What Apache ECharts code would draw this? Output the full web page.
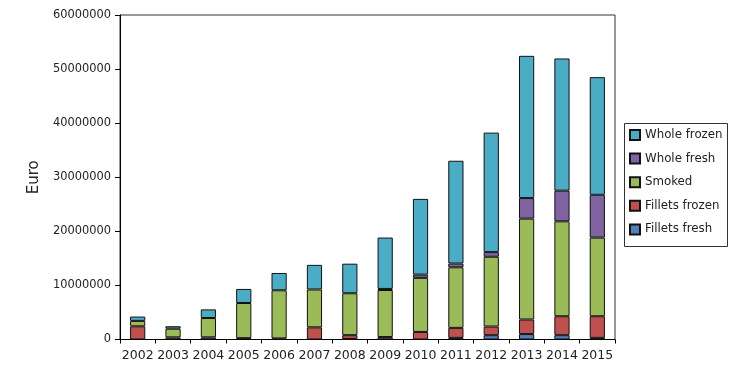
<!DOCTYPE html>
<html>
<head>
<meta charset="utf-8">
<script src="https://cdn.jsdelivr.net/npm/echarts@6/dist/echarts.min.js"></script>
<style>html,body{margin:0;padding:0;background:#fff}#c{width:737px;height:372px}</style>
</head>
<body>
<div id="c"></div>
<script>
var years = ['2002','2003','2004','2005','2006','2007','2008','2009','2010','2011','2012','2013','2014','2015'];
var filletsFresh  = [0, 0, 0, 0, 0, 0, 100000, 0, 0, 300000, 800000, 1000000, 800000, 300000];
var filletsFrozen = [2440000, 400000, 400000, 250000, 200000, 2250000, 700000, 450000, 1400000, 1850000, 1600000, 2700000, 3500000, 4000000];
var smoked        = [1000000, 1600000, 3570000, 6500000, 8900000, 7000000, 7750000, 8700000, 10000000, 11200000, 12900000, 18650000, 17550000, 14540000];
var wholeFresh    = [0, 0, 0, 0, 0, 0, 0, 200000, 600000, 700000, 850000, 3800000, 5670000, 7920000];
var wholeFrozen   = [800000, 450000, 1600000, 2600000, 3200000, 4550000, 5470000, 9500000, 14000000, 19000000, 22100000, 26300000, 24440000, 21750000];
var yTicks = [0, 10000000, 20000000, 30000000, 40000000, 50000000, 60000000];

var seriesDefs = [
  ['Fillets fresh', filletsFresh, '#4F81BD'],
  ['Fillets frozen', filletsFrozen, '#C0504D'],
  ['Smoked', smoked, '#9BBB59'],
  ['Whole fresh', wholeFresh, '#8064A2'],
  ['Whole frozen', wholeFrozen, '#4BACC6']
];
var font = 'DejaVu Sans, Verdana, sans-serif';
var chart = echarts.init(document.getElementById('c'), null, {renderer: 'canvas'});
chart.setOption({
  animation: false,
  grid: {left: 120, right: 122, top: 15, bottom: 32.5, show: true, borderColor: '#333', borderWidth: 1},
  xAxis: {
    type: 'category', data: years,
    axisLine: {lineStyle: {color: '#000', width: 1}},
    axisTick: {show: true, length: 4, interval: 0, lineStyle: {color: '#000'}},
    axisLabel: {color: '#222', fontFamily: font, fontSize: 12.5, margin: 10, interval: 0, hideOverlap: false}
  },
  yAxis: {
    type: 'value', min: yTicks[0], max: yTicks[yTicks.length - 1], interval: yTicks[1] - yTicks[0],
    name: 'Euro', nameLocation: 'middle', nameGap: 78,
    nameTextStyle: {color: '#222', fontFamily: font, fontSize: 15},
    axisLine: {show: true, lineStyle: {color: '#000', width: 1}},
    axisTick: {show: true, length: 5, lineStyle: {color: '#000'}},
    splitLine: {show: false},
    axisLabel: {color: '#222', fontFamily: font, fontSize: 11.4, margin: 9, formatter: function (v) { return String(v); }}
  },
  legend: {
    orient: 'vertical', left: 629, top: 128, padding: 0,
    itemWidth: 10, itemHeight: 10, itemGap: 9.6,
    icon: 'rect',
    data: ['Whole frozen', 'Whole fresh', 'Smoked', 'Fillets frozen', 'Fillets fresh'],
    textStyle: {color: '#222', fontFamily: font, fontSize: 11.8, lineHeight: 14, padding: [0, 0, 0, 0]}
  },
  graphic: [{
    type: 'rect', shape: {x: 624.5, y: 123.5, width: 103, height: 123},
    style: {fill: 'none', stroke: '#333', lineWidth: 1}
  }],
  series: seriesDefs.map(function (d) {
    return {
      name: d[0], type: 'bar', stack: 'total', barWidth: '43%',
      data: d[1].map(function (v) { return v === 0 ? '-' : v; }),
      itemStyle: {color: d[2], borderColor: '#111', borderWidth: 1}
    };
  })
});
</script>
</body>
</html>
